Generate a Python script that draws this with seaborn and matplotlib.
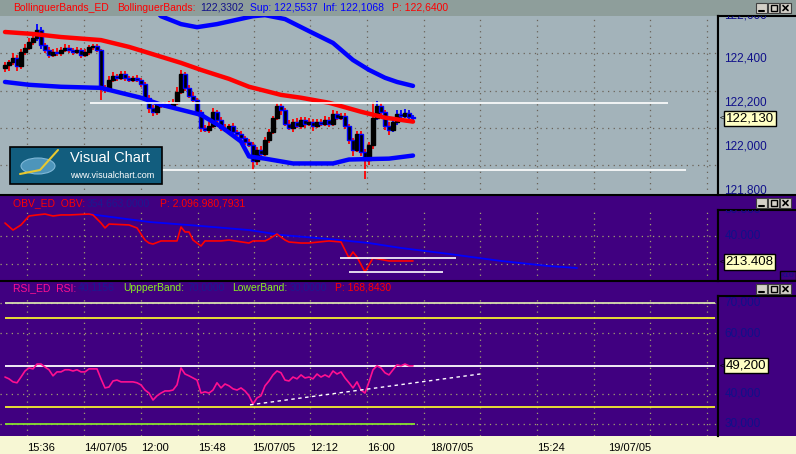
import numpy as np
import pandas as pd
import seaborn as sns
import matplotlib
matplotlib.use("Agg")
from matplotlib import pyplot as plt
from matplotlib.patches import Rectangle, Ellipse
from matplotlib.lines import Line2D
from matplotlib.transforms import blended_transform_factory

W, H = 796, 454

# ---------------- price bars (x = bar index) ----------------
closes = [122.373, 122.386, 122.405, 122.368, 122.432, 122.450, 122.477, 122.495, 122.532, 122.464,
          122.441, 122.418, 122.432, 122.427, 122.441, 122.450, 122.441, 122.432, 122.441, 122.418,
          122.432, 122.455, 122.459, 122.441, 122.268, 122.259, 122.305, 122.323, 122.314, 122.332,
          122.314, 122.305, 122.314, 122.305, 122.286, 122.223, 122.177, 122.159, 122.191, 122.186,
          122.195, 122.186, 122.200, 122.250, 122.332, 122.268, 122.232, 122.214, 122.159, 122.086,
          122.077, 122.095, 122.159, 122.123, 122.086, 122.077, 122.095, 122.068, 122.059, 122.041,
          122.023, 122.009, 121.932, 121.986, 121.968, 122.032, 122.068, 122.132, 122.186, 122.168,
          122.105, 122.086, 122.114, 122.095, 122.123, 122.105, 122.114, 122.095, 122.114, 122.105,
          122.123, 122.105, 122.150, 122.132, 122.141, 122.095, 122.032, 121.986, 122.059, 121.977,
          121.941, 122.005, 122.132, 122.186, 122.159, 122.095, 122.077, 122.114, 122.150, 122.141,
          122.155, 122.136, 122.130]
first_open = 122.360
wick_up = [0.015, 0.010, 0.020, 0.012, 0.015, 0.020, 0.018, 0.010, 0.027, 0.012,
           0.010, 0.015, 0.012, 0.018, 0.015, 0.020, 0.012, 0.010, 0.015, 0.010,
           0.012, 0.008, 0.010, 0.008, 0.005, 0.012, 0.015, 0.018, 0.010, 0.015,
           0.012, 0.010, 0.008, 0.012, 0.010, 0.008, 0.012, 0.015, 0.010, 0.012,
           0.010, 0.012, 0.015, 0.020, 0.018, 0.010, 0.012, 0.015, 0.008, 0.010,
           0.012, 0.018, 0.015, 0.010, 0.012, 0.015, 0.010, 0.012, 0.008, 0.010,
           0.008, 0.012, 0.010, 0.012, 0.015, 0.012, 0.010, 0.008, 0.012, 0.015,
           0.010, 0.015, 0.012, 0.018, 0.010, 0.012, 0.015, 0.010, 0.012, 0.010,
           0.015, 0.012, 0.018, 0.012, 0.010, 0.012, 0.010, 0.008, 0.012, 0.010,
           0.012, 0.018, 0.070, 0.020, 0.012, 0.010, 0.015, 0.012, 0.018, 0.015,
           0.018, 0.012, 0.010]
wick_dn = [0.020, 0.030, 0.012, 0.025, 0.015, 0.012, 0.010, 0.015, 0.012, 0.020,
           0.015, 0.012, 0.010, 0.015, 0.012, 0.010, 0.015, 0.012, 0.010, 0.012,
           0.010, 0.012, 0.015, 0.010, 0.055, 0.015, 0.012, 0.010, 0.015, 0.012,
           0.015, 0.012, 0.010, 0.012, 0.015, 0.010, 0.025, 0.020, 0.015, 0.012,
           0.010, 0.012, 0.010, 0.008, 0.012, 0.015, 0.010, 0.012, 0.015, 0.020,
           0.012, 0.015, 0.012, 0.018, 0.015, 0.010, 0.012, 0.015, 0.010, 0.012,
           0.015, 0.012, 0.040, 0.015, 0.012, 0.010, 0.015, 0.012, 0.010, 0.025,
           0.012, 0.010, 0.020, 0.012, 0.015, 0.020, 0.012, 0.025, 0.012, 0.010,
           0.012, 0.015, 0.012, 0.010, 0.012, 0.015, 0.020, 0.030, 0.012, 0.020,
           0.090, 0.025, 0.015, 0.012, 0.015, 0.020, 0.025, 0.012, 0.015, 0.012,
           0.010, 0.015, 0.010]
blue_wicks = [8, 9, 93, 97, 98, 99, 100, 101, 102]

# Bollinger bands
mid_idx = [0, 7, 14, 24, 31, 36, 44, 49, 56, 61, 69, 74, 81, 89, 95, 102]
mid_val = [122.523, 122.514, 122.500, 122.486, 122.455, 122.427, 122.382, 122.350,
           122.309, 122.273, 122.236, 122.223, 122.200, 122.159, 122.132, 122.114]
low_idx = [0, 6, 14, 24, 29, 34, 39, 49, 54, 59, 61, 65, 72, 82, 86, 96, 102]
low_val = [122.295, 122.282, 122.273, 122.268, 122.245, 122.223, 122.191, 122.145, 122.091,
           122.023, 121.955, 121.945, 121.923, 121.923, 121.941, 121.945, 121.959]
up_idx = [0, 24, 36, 39, 44, 48, 53, 62, 65, 70, 76, 82, 87, 91, 95, 98, 102]
up_val = [122.751, 122.704, 122.654, 122.595, 122.559, 122.545, 122.559, 122.595, 122.600,
          122.582, 122.527, 122.473, 122.395, 122.350, 122.314, 122.295, 122.277]

price_levels = [122.200, 121.895]
price_level_from = [21.25, 38.75]
price_level_to = [165.75, 170.25]

# ---------------- OBV ----------------
obv_idx = [0, 2, 4, 6, 8, 10, 12, 14, 16, 21, 22, 24, 25, 26, 31, 33, 35, 36, 37, 39, 43, 44,
           45, 46, 47, 49, 50, 54, 56, 61, 62, 65, 66, 68, 70, 71, 74, 76, 81, 84, 86, 87, 88,
           90, 92, 96, 102]
obv_val = [50.0, 44.6, 48.5, 55.4, 56.2, 56.9, 55.4, 56.2, 56.2, 56.9, 56.2, 50.0, 46.2, 49.2,
           48.5, 46.2, 36.9, 34.6, 33.8, 36.2, 36.2, 46.9, 43.1, 43.1, 36.9, 32.3, 36.2, 36.2,
           36.9, 34.6, 36.2, 36.2, 37.7, 41.5, 36.9, 35.4, 34.6, 34.6, 36.2, 35.4, 23.1, 27.7,
           23.8, 12.3, 23.1, 20.8, 20.8]
obv_avg_idx = [21, 36, 49, 61, 69, 81, 91, 99, 111, 124, 136, 143]
obv_avg_val = [56.9, 50.8, 47.7, 44.6, 40.8, 37.7, 34.6, 30.8, 26.2, 20.8, 16.9, 15.4]
obv_levels = [23.1, 12.3]
obv_level_from = [83.75, 86.0]
obv_level_to = [112.75, 109.5]

# ---------------- RSI ----------------
rsi = [45.5, 44.9, 43.9, 43.6, 45.5, 47.5, 48.5, 48.2, 49.8, 49.8,
       48.8, 47.9, 45.9, 47.2, 47.2, 47.9, 47.9, 47.5, 47.9, 47.2,
       47.2, 48.2, 48.2, 48.2, 44.9, 41.9, 42.2, 44.2, 44.5, 43.9,
       43.9, 43.9, 43.9, 43.6, 42.9, 41.2, 40.2, 37.9, 39.3, 40.2,
       40.9, 40.9, 41.2, 42.9, 48.5, 46.5, 45.9, 45.2, 44.5, 40.2,
       40.6, 40.2, 41.2, 43.6, 41.9, 43.2, 42.6, 41.6, 41.2, 41.9,
       40.9, 39.3, 36.6, 38.6, 39.3, 42.6, 44.2, 46.2, 47.5, 46.9,
       44.5, 44.2, 45.5, 44.9, 46.2, 45.2, 45.5, 44.9, 46.5, 45.5,
       46.2, 45.5, 47.5, 46.5, 47.2, 45.2, 43.6, 41.9, 43.9, 41.2,
       40.2, 43.9, 47.9, 49.2, 48.5, 46.9, 46.2, 47.9, 49.5, 49.2,
       49.8, 49.2, 49.2]
rsi_levels = [70, 65, 49.2, 35.5, 30]
rsi_level_to = [177.5, 177.5, 177.5, 177.5, 102.5]
rsi_level_colors = ['#d8e0b0', '#f4f030', '#ffffff', '#f4f030', '#88e030']
rsi_trend_x = [61.25, 118.75]
rsi_trend_y = [36.3, 46.5]

# ---------------- axes text ----------------
grid_x = [5.5, 19.75, 34, 48.25, 62.25, 76.25, 90.5, 104.75, 118.75, 133, 147.25, 161.25, 175.5]
label_x = [5.5, 19.75, 34, 48.25, 61.75, 76.25, 90.5, 106.25, 133, 150.75]
label_text = ['15:36', '14/07/05', '12:00', '15:48', '15/07/05', '12:12', '16:00',
              '18/07/05', '15:24', '19/07/05']
price_ticks = [122.6, 122.4, 122.2, 122.0, 121.8]
price_tick_labels = ['122,600', '122,400', '122,200', '122,000', '121,800']
price_grid = [122.427, 122.254, 122.086, 121.914]
obv_ticks = [60, 40]
obv_tick_labels = ['60.000', '40.000']
obv_grid = [40, 18.5]
rsi_ticks = [70, 60, 40, 30]
rsi_tick_labels = ['70,000', '60,000', '40,000', '30,000']

GRAY = '#a3b3ba'
TITLE = '#8e9e9b'
PURPLE = '#400080'
AXIS_BG = '#f7f7d4'
NAVY = '#10108a'
DOTS_GRAY = '#6a6258'
DOTS_PURPLE = '#a0a070'

sns.set_style("white")
plt.rcParams['font.family'] = ['Liberation Sans', 'DejaVu Sans']

fig = plt.figure(figsize=(W / 100, H / 100), dpi=100, facecolor=PURPLE)


def box(x0, y0, x1, y1):
    return [x0 / W, 1 - y1 / H, (x1 - x0) / W, (y1 - y0) / H]


def fig_rect(x0, y0, x1, y1, fc, ec='none', lw=0, z=-5):
    fig.patches.append(Rectangle((x0 / W, 1 - y1 / H), (x1 - x0) / W, (y1 - y0) / H,
                                 transform=fig.transFigure, facecolor=fc, edgecolor=ec,
                                 linewidth=lw, zorder=z))


def fig_text(x, y, s, color, size=7.5, z=6, **kw):
    fig.text(x / W, 1 - y / H, s, color=color, fontsize=size, va='center', ha='left',
             zorder=z, **kw)


def fig_line(xs, ys, color='black', lw=1.5, z=4):
    fig.add_artist(Line2D([x / W for x in xs], [1 - y / H for y in ys], color=color, lw=lw,
                          transform=fig.transFigure, zorder=z))


# backgrounds
fig_rect(0, 0, W, 195, GRAY)
fig_rect(0, 0, W, 16, TITLE)
fig_rect(0, 436, W, H, AXIS_BG)


def main_axes(rect, bg, ylim, grid_y, dots, ticks):
    ax = fig.add_axes(rect, facecolor=bg)
    ax.set_xlim(-1.25, 178.25)
    ax.set_ylim(*ylim)
    for s in ['top', 'left', 'bottom']:
        ax.spines[s].set_visible(False)
    ax.spines['right'].set_color('black')
    ax.spines['right'].set_linewidth(1.5)
    ax.yaxis.tick_right()
    ax.set_yticks(ticks)
    ax.tick_params(axis='y', length=3, width=1, color='black', labelright=False, direction='out')
    ax.set_xticks([])
    for gx in grid_x:
        ax.axvline(gx, color=dots, lw=0.9, linestyle=(0, (1, 3.5)), zorder=1)
    for gy in grid_y:
        ax.axhline(gy, color=dots, lw=0.9, linestyle=(0, (1, 3.5)), zorder=1)
    return ax


def scale_axes(rect, bg, ylim, ticks, labels):
    ax = fig.add_axes(rect, facecolor=bg)
    ax.set_xlim(0, 1)
    ax.set_ylim(*ylim)
    ax.set_xticks([])
    ax.set_yticks([])
    for s in ['right', 'bottom']:
        ax.spines[s].set_visible(False)
    for s in ['top', 'left']:
        ax.spines[s].set_color('black')
        ax.spines[s].set_linewidth(1.5)
    tr = blended_transform_factory(ax.transAxes, ax.transData)
    for v, t in zip(ticks, labels):
        ax.text(0.08, v, t, transform=tr, color=NAVY, fontsize=8.5, va='center',
                ha='left', clip_on=True)
    return ax


def value_box(ax, v, s):
    tr = blended_transform_factory(ax.transAxes, ax.transData)
    ax.text(0.02, v, '<', transform=tr, fontsize=6, va='center', color='black')
    ax.text(0.10, v, s, transform=tr, fontsize=9.5, va='center', ha='left', color='black',
            bbox=dict(boxstyle='square,pad=0.12', fc='#ffffc4', ec='black', lw=1))


# ---------------- price panel ----------------
p_ylim = (121.779, 122.596)
ax_p = main_axes(box(0, 16, 718, 195), GRAY, p_ylim, price_grid, DOTS_GRAY, price_ticks)
ax_ps = scale_axes(box(718, 16, W, 195), GRAY, p_ylim, price_ticks, price_tick_labels)
value_box(ax_ps, closes[-1], '122,130')

idx = np.arange(len(closes))
c = np.array(closes)
o = np.concatenate([[first_open], c[:-1]])
hi = np.maximum(o, c) + np.array(wick_up)
lo = np.minimum(o, c) - np.array(wick_dn)
wick_colors = ['#0000ff' if i in blue_wicks else '#ff0000' for i in idx]
edge_colors = ['#0000ff' if cc < oo else '#000000' for cc, oo in zip(c, o)]
ax_p.vlines(idx, lo, hi, colors=wick_colors, lw=1.3, zorder=2)
ax_p.bar(idx, c - o, bottom=o, width=0.8, color='black', edgecolor=edge_colors,
         linewidth=1.0, zorder=3)

sns.lineplot(x=mid_idx, y=mid_val, ax=ax_p, color='#ff0000', linewidth=3.2, zorder=4)
sns.lineplot(x=low_idx, y=low_val, ax=ax_p, color='#0000ff', linewidth=3.2, zorder=4)
sns.lineplot(x=up_idx, y=up_val, ax=ax_p, color='#0000ff', linewidth=3.2, zorder=4)
ax_p.hlines(price_levels, price_level_from, price_level_to, colors='white', lw=1.2, zorder=5)
ax_p.set_xlabel('')
ax_p.set_ylabel('')
ax_p.set_ylim(*p_ylim)
ax_p.set_xlim(-1.25, 178.25)

# ---------------- OBV panel ----------------
o_ylim = (5.4, 60.0)
ax_o = main_axes(box(0, 210, 718, 281), PURPLE, o_ylim, obv_grid, DOTS_PURPLE, obv_ticks)
ax_os = scale_axes(box(718, 210, W, 281), PURPLE, o_ylim, obv_ticks, obv_tick_labels)
value_box(ax_os, 20.0, '213.408')
ax_os.text(0.985, 0.03, 'x10', transform=ax_os.transAxes, fontsize=6, color=NAVY,
           ha='right', va='bottom',
           bbox=dict(boxstyle='square,pad=0.15', fc=PURPLE, ec='black', lw=1))
sns.lineplot(x=obv_avg_idx, y=obv_avg_val, ax=ax_o, color='#0000ff', linewidth=1.3, zorder=3)
sns.lineplot(x=obv_idx, y=obv_val, ax=ax_o, color='#ff0000', linewidth=1.2, zorder=4)
ax_o.hlines(obv_levels, obv_level_from, obv_level_to, colors='white', lw=1.2, zorder=5)
ax_o.set_xlabel('')
ax_o.set_ylabel('')
ax_o.set_ylim(*o_ylim)
ax_o.set_xlim(-1.25, 178.25)

# ---------------- RSI panel ----------------
r_ylim = (26.0, 72.3)
ax_r = main_axes(box(0, 296, 718, 436), PURPLE, r_ylim, rsi_ticks, DOTS_PURPLE, rsi_ticks)
ax_rs = scale_axes(box(718, 296, W, 436), PURPLE, r_ylim, rsi_ticks, rsi_tick_labels)
value_box(ax_rs, rsi[-1], '49,200')
ax_r.hlines(rsi_levels, 0, rsi_level_to, colors=rsi_level_colors, lw=1.3, zorder=2)
sns.lineplot(x=idx, y=rsi, ax=ax_r, color='#ff1090', linewidth=1.2, zorder=4)
sns.lineplot(x=rsi_trend_x, y=rsi_trend_y, ax=ax_r, color='white', linewidth=1,
             linestyle=(0, (2.5, 2.5)), zorder=5)
ax_r.set_xlabel('')
ax_r.set_ylabel('')
ax_r.set_ylim(*r_ylim)
ax_r.set_xlim(-1.25, 178.25)

# time axis on the bottom strip: labelled ticks are major, grid ticks minor
ax_r.set_xticks(label_x)
ax_r.set_xticklabels(label_text)
ax_r.set_xticks(grid_x, minor=True)
ax_r.tick_params(axis='x', which='minor', length=3, width=1, color='black', direction='out')
ax_r.tick_params(axis='x', which='major', length=5, width=1, color='black', direction='out',
                 labelsize=8, labelcolor='black', pad=0)
for t in ax_r.get_xticklabels():
    t.set_ha('left')

# panel separators
fig_line([0, W], [195, 195])
fig_line([0, W], [281, 281])

# headers (each coloured piece placed where it sits in the screenshot)
fig_text(13, 8, 'BollinguerBands_ED', '#ff0000')
fig_text(117, 8, 'BollinguerBands:', '#ff0000')
fig_text(200, 8, '122,3302', NAVY)
fig_text(250, 8, 'Sup: 122,5537', '#0000ff')
fig_text(323, 8, 'Inf: 122,1068', '#0000ff')
fig_text(392, 8, 'P: 122,6400', '#ff0000')

fig_text(13, 203, 'OBV_ED  OBV:', '#ff0000')
fig_text(87, 203, '354.663,0000', '#1a1a90')
fig_text(160, 203, 'P: 2.096.980,7931', '#ff0000')

fig_text(13, 288, 'RSI_ED  RSI:', '#ff1090')
fig_text(78, 288, '40,1156', '#1a1a90')
fig_text(123, 288, 'UppperBand:', '#88f020')
fig_text(187, 288, '70,0000', '#1a1a90')
fig_text(232, 288, 'LowerBand:', '#88f020')
fig_text(290, 288, '30,0000', '#1a1a90')
fig_text(335, 288, 'P: 168,8430', '#ff0000')

# window buttons (minimise, maximise, close) drawn as small shapes
for yc in [8, 203, 289]:
    for xb in [756, 768, 780]:
        fig_rect(xb, yc - 5, xb + 11, yc + 5, '#d4d0c8', ec='#404040', lw=0.8, z=6)
    fig_line([759, 764], [yc + 2.5, yc + 2.5], lw=1.5, z=7)
    fig_rect(771, yc - 3, 777, yc + 3, 'none', ec='black', lw=1, z=7)
    fig_line([783, 788], [yc - 2.5, yc + 2.5], lw=1.2, z=7)
    fig_line([783, 788], [yc + 2.5, yc - 2.5], lw=1.2, z=7)

# Visual Chart logo
fig_rect(10, 147, 162, 184, '#125d7e', ec='black', lw=1.2, z=6)
fig.patches.append(Ellipse((38 / W, 1 - 166 / H), 34 / W, 16 / H, transform=fig.transFigure,
                           facecolor='#4d95bb', edgecolor='#7fb8d8', lw=0.8, zorder=7))
fig_line([20, 40, 58], [174, 170, 150], color='#e8c830', lw=1.5, z=8)
fig_text(70, 158, 'Visual Chart', 'white', size=10.5, z=8)
fig_text(70, 175, 'www.visualchart.com', 'white', size=6.5, z=8)

fig.savefig('out.png', dpi=100, facecolor=fig.get_facecolor())
